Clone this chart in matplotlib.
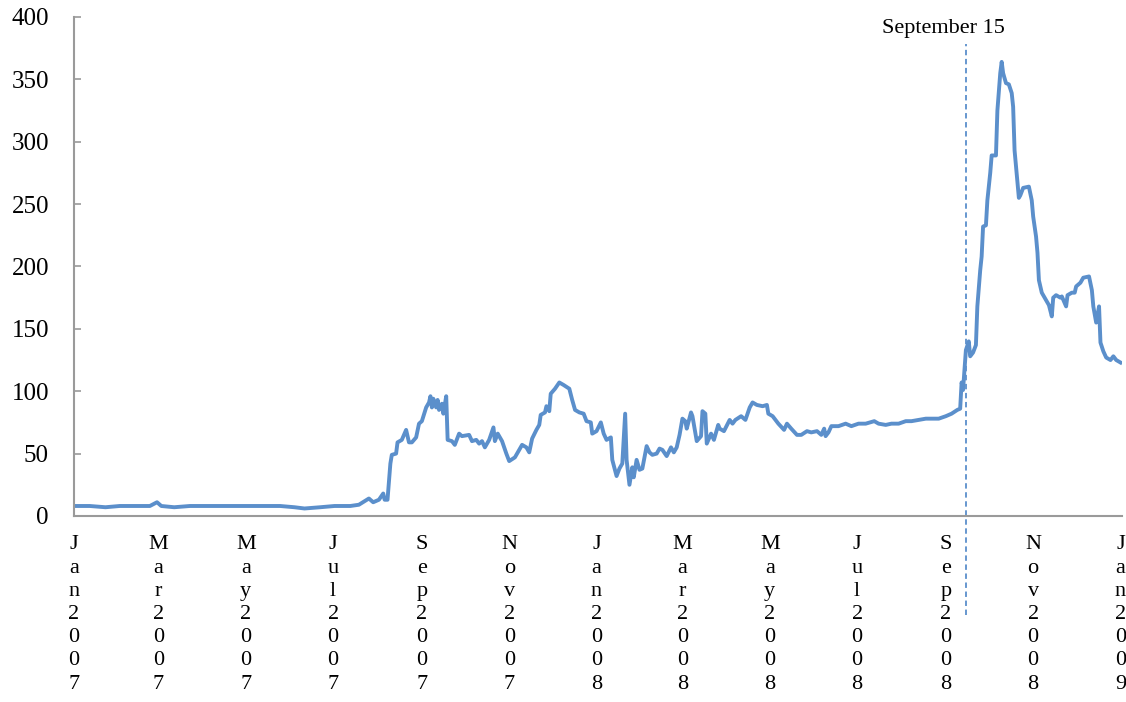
import numpy as np
import matplotlib
matplotlib.use("Agg")
import matplotlib.pyplot as plt

plt.rcParams['font.family'] = ['Liberation Serif', 'DejaVu Serif']

# days since 2007-01-01 and spread value (basis points)
days = [1, 11, 22, 32, 43, 53, 58, 61, 70, 81, 91, 102, 112, 123, 133, 144,
        154, 161, 172, 182, 193, 199, 206, 209, 213, 216, 217, 219, 221, 222,
        225, 226, 229, 232, 234, 236, 239, 241, 243, 246, 248, 249, 250, 251,
        253, 254, 255, 257, 258, 260, 261, 264, 266, 269, 271, 276, 278, 281,
        283, 285, 287, 290, 293, 294, 296, 299, 302, 304, 308, 310, 313, 316,
        318, 320, 323, 325, 326, 329, 330, 332, 333, 336, 339, 342, 346, 348,
        350, 353, 356, 358, 361, 362, 365, 368, 370, 372, 375, 376, 379, 381,
        383, 385, 386, 388, 390, 391, 393, 395, 397, 400, 402, 404, 407, 409,
        411, 414, 417, 419, 421, 423, 425, 427, 428, 431, 432, 435, 438, 439,
        441, 442, 445, 447, 450, 451, 454, 458, 460, 462, 466, 469, 472, 474,
        477, 481, 484, 485, 488, 492, 496, 498, 501, 505, 508, 512, 515, 519,
        522, 524, 525, 527, 529, 534, 539, 543, 548, 553, 559, 562, 567, 571,
        576, 581, 585, 590, 595, 599, 604, 609, 613, 617, 619, 620, 621, 623,
        625, 626, 628, 630, 631, 633, 634, 635, 637, 638, 640, 641, 644, 645,
        647, 648, 649, 651, 653, 655, 656, 657, 658, 660, 661, 663, 667, 669,
        670, 672, 673, 674, 676, 679, 681, 683, 684, 686, 689, 690, 693, 694,
        697, 699, 700, 703, 705, 709, 711, 712, 714, 716, 717, 719, 721, 724,
        726, 728, 731]
spread = [8, 8, 7, 8, 8, 8, 11, 8, 7, 8, 8, 8, 8, 8, 8, 8,
          7, 6, 7, 8, 8, 9, 14, 11, 13, 18, 13, 13, 42, 49,
          50, 59, 61, 69, 59, 59, 63, 74, 76, 87, 91, 96, 87, 94,
          87, 93, 85, 90, 82, 96, 61, 60, 57, 66, 64, 65, 60, 61,
          58, 60, 55, 61, 71, 60, 66, 60, 50, 44, 47, 51, 57, 55,
          51, 62, 69, 73, 81, 83, 88, 84, 98, 102, 107, 105, 102, 93,
          85, 83, 82, 76, 75, 66, 68, 75, 66, 61, 63, 45, 32, 38,
          42, 82, 45, 25, 39, 31, 45, 37, 38, 56, 51, 49, 50, 54,
          53, 48, 55, 51, 55, 65, 78, 76, 70, 83, 80, 60, 64, 84,
          82, 58, 66, 61, 73, 70, 68, 77, 74, 77, 80, 77, 87, 91,
          89, 88, 89, 82, 80, 74, 69, 74, 70, 65, 65, 68, 67, 68,
          65, 70, 64, 67, 72, 72, 74, 72, 74, 74, 76, 74, 73, 74,
          74, 76, 76, 77, 78, 78, 78, 80, 82, 85, 86, 107, 101, 133,
          140, 128, 131, 137, 168, 197, 208, 232, 233, 253, 275, 289, 289, 325,
          355, 364, 355, 347, 346, 339, 328, 293, 280, 255, 257, 263, 264, 253,
          240, 224, 211, 189, 179, 173, 169, 160, 175, 177, 175, 176, 168, 177,
          179, 179, 184, 187, 191, 192, 181, 168, 155, 168, 139, 132, 127, 125,
          128, 125, 123]

tick_months = ['2007-01', '2007-03', '2007-05', '2007-07', '2007-09', '2007-11',
               '2008-01', '2008-03', '2008-05', '2008-07', '2008-09', '2008-11',
               '2009-01']
tick_names = ['Jan2007', 'Mar2007', 'May2007', 'Jul2007', 'Sep2007', 'Nov2007',
              'Jan2008', 'Mar2008', 'May2008', 'Jul2008', 'Sep2008', 'Nov2008',
              'Jan2009']
event_date = '2008-09-15'
event_label = 'September 15'

start = np.datetime64('2007-01-01')
dates = start + np.array(days, dtype='timedelta64[D]')

blue = '#5b8fcb'
grey = '#9a9a9a'

fig = plt.figure(figsize=(11.26, 7.02), dpi=100)
ax = fig.add_axes([0.0657, 0.265, 0.9307, 0.7108])

ax.plot(dates, spread, color=blue, lw=2.8, solid_joinstyle='round')

ev = np.datetime64(event_date)
ax.plot([ev, ev], [-79, 378], color=blue, lw=1.3, ls=(0, (3, 2)), clip_on=False)
ax.text(ev - np.timedelta64(16, 'D'), 391, event_label, ha='center', va='center',
        fontsize=16)

ax.set_xlim(np.datetime64('2007-01-02'), np.datetime64('2009-01-02'))
ax.set_ylim(0, 400)
ax.set_yticks(range(0, 401, 50))

ax.set_xticks([np.datetime64(m + '-01') for m in tick_months])
ax.set_xticklabels(['\n'.join(n) for n in tick_names], fontsize=16,
                   linespacing=1.3, va='top')
ax.tick_params(axis='x', length=0, pad=14)
ax.tick_params(axis='y', direction='in', length=5, color=grey, width=1.2,
               labelsize=18, pad=18)

for s in ['top', 'right']:
    ax.spines[s].set_visible(False)
for s in ['left', 'bottom']:
    ax.spines[s].set_color(grey)
    ax.spines[s].set_linewidth(1.5)

fig.savefig('out.png', dpi=100)
